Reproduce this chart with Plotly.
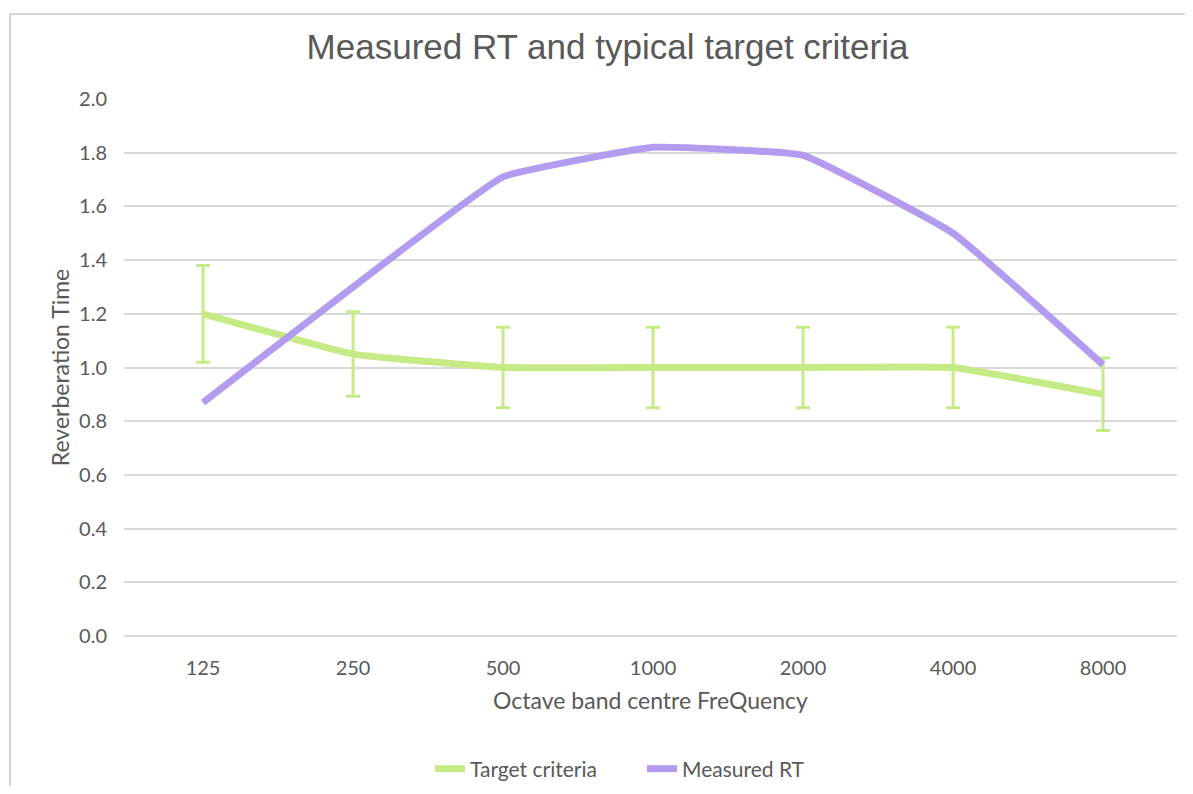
import plotly.graph_objects as go

frequencies = ["125", "250", "500", "1000", "2000", "4000", "8000"]
target_criteria = [1.2, 1.05, 1.0, 1.0, 1.0, 1.0, 0.9]
target_error_pct = 15
measured_rt = [0.87, 1.30, 1.71, 1.82, 1.79, 1.50, 1.01]
y_ticks = [0.0, 0.2, 0.4, 0.6, 0.8, 1.0, 1.2, 1.4, 1.6, 1.8, 2.0]

GREEN = "#c6eb86"
PURPLE = "#b39cf0"
TEXT = "#595959"
GRID = "#d9d9d9"

# page body has an 8px margin; lay out figure so it lands on reference pixels
OFF = 8
W, H = 1193 - 2 * OFF, 794 - 2 * OFF
L, T = 124 - OFF, 99 - OFF
R = W - (1177 - OFF)
B = H - (636 - OFF)
pw, ph = W - L - R, H - T - B


def px_to_paper_x(px):
    return (px - OFF - L) / pw


def py_to_paper_y(py):
    return (T + ph - (py - OFF)) / ph


fig = go.Figure()
fig.add_trace(go.Scatter(
    x=frequencies, y=target_criteria, name="Target criteria", mode="lines",
    line=dict(color=GREEN, width=7, shape="spline", smoothing=0.3),
    error_y=dict(type="percent", value=target_error_pct, color=GREEN, thickness=3, width=7),
))
fig.add_trace(go.Scatter(
    x=frequencies, y=measured_rt, name="Measured RT", mode="lines",
    line=dict(color=PURPLE, width=7, shape="spline", smoothing=0.3),
))

fig.add_shape(type="rect", xref="paper", yref="paper",
              x0=px_to_paper_x(10), x1=px_to_paper_x(1400),
              y0=py_to_paper_y(1000), y1=py_to_paper_y(14),
              line=dict(color="#d6d6d6", width=2), fillcolor="rgba(0,0,0,0)", layer="below")

fig.update_layout(
    width=W, height=H,
    margin=dict(l=L, r=R, t=T, b=B, autoexpand=False),
    paper_bgcolor="white", plot_bgcolor="white",
    font=dict(family="Lato, Open Sans, sans-serif", color=TEXT),
    title=dict(text="Measured RT and typical target criteria",
               font=dict(family="Liberation Sans, Arial, sans-serif", size=35, color=TEXT),
               x=px_to_paper_x(607.5), xref="paper", xanchor="center",
               y=1 - (47 - OFF) / H, yanchor="middle"),
    xaxis=dict(title=dict(text="Octave band centre FreQuency", font=dict(size=23, color=TEXT), standoff=14),
               tickfont=dict(size=20, color=TEXT), showgrid=False, showline=False,
               ticks="outside", ticklen=14, tickcolor="rgba(0,0,0,0)", range=[-0.527, 6.493],
               automargin=False),
    yaxis=dict(title=dict(text="Reverberation Time", font=dict(size=23, color=TEXT), standoff=3),
               tickfont=dict(size=20, color=TEXT), range=[0, 2], tickvals=y_ticks,
               tickformat=".1f", showgrid=True, gridcolor=GRID, gridwidth=1.5,
               zeroline=True, zerolinecolor=GRID, zerolinewidth=1.5,
               ticks="outside", ticklen=12, tickcolor="rgba(0,0,0,0)", automargin=False),
    legend=dict(orientation="h", x=px_to_paper_x(430), xanchor="left", y=py_to_paper_y(769), yanchor="middle",
                font=dict(size=21, color=TEXT), traceorder="normal",
                entrywidth=167, entrywidthmode="pixels"),
    showlegend=True,
)

fig.write_html("out.html")
